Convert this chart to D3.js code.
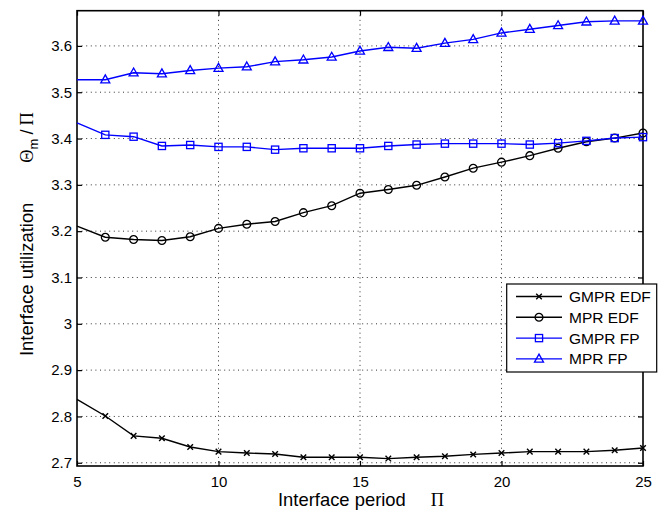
<!DOCTYPE html>
<html><head><meta charset="utf-8">
<script src="https://cdn.jsdelivr.net/npm/d3@7"></script>
<style>body{margin:0;background:#fff}svg{display:block}text{font-family:"Liberation Sans",Arial,Helvetica,sans-serif}</style>
</head><body><svg id="c" width="662" height="510"></svg>
<script>
const periods = [5,6,7,8,9,10,11,12,13,14,15,16,17,18,19,20,21,22,23,24,25];
const gmprEdf = [2.837,2.801,2.758,2.753,2.734,2.724,2.721,2.719,2.712,2.712,2.712,2.709,2.712,2.714,2.718,2.721,2.724,2.724,2.724,2.727,2.732];
const mprEdf  = [3.211,3.187,3.182,3.180,3.188,3.206,3.215,3.221,3.240,3.255,3.282,3.290,3.299,3.317,3.336,3.349,3.363,3.379,3.393,3.401,3.412];
const gmprFp  = [3.434,3.408,3.404,3.384,3.386,3.382,3.382,3.376,3.379,3.379,3.379,3.384,3.387,3.389,3.389,3.389,3.387,3.390,3.395,3.401,3.403];
const mprFp   = [3.527,3.527,3.542,3.540,3.547,3.552,3.555,3.566,3.570,3.576,3.589,3.597,3.595,3.606,3.614,3.628,3.636,3.644,3.652,3.654,3.654];
const xTicks = [5,10,15,20,25];
const yTicks = [2.7,2.8,2.9,3,3.1,3.2,3.3,3.4,3.5,3.6];
const seriesNames = ["GMPR EDF","MPR EDF","GMPR FP","MPR FP"];
const seriesColors = ["#000","#000","#0000ff","#0000ff"];
const seriesMarkers = ["x","circle","square","triangle"];
const seriesValues = [gmprEdf, mprEdf, gmprFp, mprFp];

const svg = d3.select("#c");
const L=77,R=643,T=10.7,B=466;
const x = d3.scaleLinear().domain([5,25]).range([L,R]);
const y = d3.scaleLinear().domain([2.693,3.676]).range([B,T]);

// grid
const g = svg.append("g");
g.selectAll(".vg").data(xTicks.slice(1,-1)).enter().append("line")
 .attr("x1",d=>x(d)).attr("x2",d=>x(d)).attr("y1",T).attr("y2",B)
 .attr("stroke","#333").attr("stroke-width",1).attr("stroke-dasharray","1 3.6");
g.selectAll(".hg").data(yTicks).enter().append("line")
 .attr("x1",L).attr("x2",R).attr("y1",d=>y(d)).attr("y2",d=>y(d))
 .attr("stroke","#333").attr("stroke-width",1).attr("stroke-dasharray","1 3.6");

// axes
const fmt = d=>String(d);
const ax = svg.append("g").attr("transform",`translate(0,${B})`)
 .call(d3.axisBottom(x).tickValues(xTicks).tickSize(-5).tickPadding(10).tickFormat(fmt));
const at = svg.append("g").attr("transform",`translate(0,${T})`)
 .call(d3.axisTop(x).tickValues(xTicks).tickSize(-5).tickFormat(""));
const ay = svg.append("g").attr("transform",`translate(${L},0)`)
 .call(d3.axisLeft(y).tickValues(yTicks).tickSize(-5).tickPadding(5).tickFormat(fmt));
const ar = svg.append("g").attr("transform",`translate(${R},0)`)
 .call(d3.axisRight(y).tickValues(yTicks).tickSize(-5).tickFormat(""));
[ax,at,ay,ar].forEach(a=>{
  a.select(".domain").remove();
  a.selectAll(".tick line").attr("stroke","#000").attr("stroke-width",1.2);
  a.selectAll("text").attr("fill","#000").style("font-size","15px")
   .style("font-family",'"Liberation Sans",Arial,Helvetica,sans-serif');
});
svg.append("rect").attr("x",L).attr("y",T).attr("width",R-L).attr("height",B-T)
 .attr("fill","none").attr("stroke","#000").attr("stroke-width",1.6);

// markers
function drawMarker(sel,type,color){
  if(type==="x"){
    sel.append("path").attr("d",d3.symbol(d3.symbolTimes,22)).attr("fill","none").attr("stroke",color).attr("stroke-width",1.4);
  } else if(type==="circle"){
    sel.append("circle").attr("r",3.9).attr("fill","none").attr("stroke",color).attr("stroke-width",1.3);
  } else if(type==="square"){
    sel.append("rect").attr("x",-3.6).attr("y",-3.6).attr("width",7.2).attr("height",7.2).attr("fill","none").attr("stroke",color).attr("stroke-width",1.3);
  } else {
    sel.append("path").attr("d","M0,-4.8L4.5,3.2L-4.5,3.2Z").attr("fill","none").attr("stroke",color).attr("stroke-width",1.3);
  }
}
const line = d3.line().x((d,i)=>x(periods[i])).y(d=>y(d));
seriesValues.forEach((vals,k)=>{
  svg.append("path").attr("d",line(vals)).attr("fill","none")
   .attr("stroke",seriesColors[k]).attr("stroke-width",1.4);
  vals.forEach((v,i)=>{
    if(i===0) return;
    const m = svg.append("g").attr("transform",`translate(${x(periods[i])},${y(v)})`);
    drawMarker(m,seriesMarkers[k],seriesColors[k]);
  });
});

// legend
const lg = svg.append("g");
lg.append("rect").attr("x",506.7).attr("y",284).attr("width",150).attr("height",88)
 .attr("fill","#fff").attr("stroke","#000").attr("stroke-width",1.2);
seriesNames.forEach((n,k)=>{
  const yy = 296.5 + k*20.8;
  lg.append("line").attr("x1",516).attr("x2",562).attr("y1",yy).attr("y2",yy)
   .attr("stroke",seriesColors[k]).attr("stroke-width",1.4);
  const m = lg.append("g").attr("transform",`translate(539,${yy})`);
  drawMarker(m,seriesMarkers[k],seriesColors[k]);
  lg.append("text").attr("x",569).attr("y",yy+5.5).style("font-size","15.5px").text(n);
});

// axis labels
const serif = '"Liberation Serif","Times New Roman",serif';
const xl = svg.append("text").attr("x",278).attr("y",506).attr("text-anchor","start").style("font-size","18.4px");
xl.append("tspan").text("Interface period");
xl.append("tspan").attr("dx",25).style("font-family",serif).text("Π");

const yl = svg.append("text").attr("transform","translate(33,356) rotate(-90)").attr("text-anchor","start").style("font-size","18.4px");
yl.append("tspan").text("Interface utilization");
yl.append("tspan").attr("dx",40).style("font-family",serif).text("Θ");
yl.append("tspan").attr("dy",5).style("font-size","13px").text("m");
yl.append("tspan").attr("dy",-5).attr("dx",4).text("/");
yl.append("tspan").attr("dx",4).style("font-family",serif).text("Π");
</script></body></html>
